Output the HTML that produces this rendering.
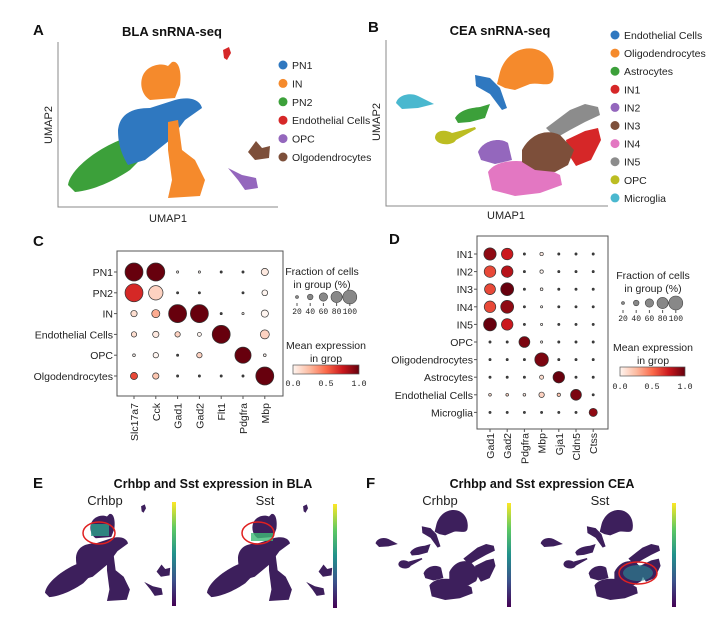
<!DOCTYPE html>
<html><head><meta charset="utf-8">
<style>
html,body{margin:0;padding:0;background:#fff;}
svg{display:block;font-family:"Liberation Sans",Arial,sans-serif;}
.t{font-size:11px;fill:#222;}
.b{font-weight:bold;}
</style></head>
<body>
<svg id="fig" width="720" height="625" viewBox="0 0 720 625">
<defs>
<linearGradient id="reds" x1="0" x2="1" y1="0" y2="0">
<stop offset="0" stop-color="#fff5f0"/><stop offset="0.25" stop-color="#fcbba1"/><stop offset="0.5" stop-color="#fb6a4a"/><stop offset="0.75" stop-color="#cb181d"/><stop offset="1" stop-color="#67000d"/>
</linearGradient>
<linearGradient id="viridis" x1="0" x2="0" y1="1" y2="0">
<stop offset="0" stop-color="#440154"/><stop offset="0.25" stop-color="#3b528b"/><stop offset="0.5" stop-color="#21918c"/><stop offset="0.75" stop-color="#5ec962"/><stop offset="1" stop-color="#fde725"/>
</linearGradient>
<filter id="dark" color-interpolation-filters="sRGB"><feColorMatrix type="matrix" values="0 0 0 0 0.24  0 0 0 0 0.12  0 0 0 0 0.36  0 0 0 1 0"/></filter>
</defs>

<!-- Panel A -->
<g>
<text x="33" y="35" font-size="15" class="b" fill="#111">A</text>
<text x="172" y="36" font-size="13" class="b" text-anchor="middle" fill="#111">BLA snRNA-seq</text>
<path d="M58,42 L58,207 L278,207" fill="none" stroke="#888" stroke-width="1"/>
<text x="168" y="222" class="t" text-anchor="middle">UMAP1</text>
<text x="0" y="0" class="t" text-anchor="middle" transform="translate(52,125) rotate(-90)">UMAP2</text>
<g id="umapA">
<path d="M68,185 C70,170 95,150 120,140 L150,128 C158,130 160,140 150,150 L130,170 C115,180 95,190 75,192 Z" fill="#3ca03a"/>
<path d="M118,130 C120,112 135,108 150,108 L175,100 C190,96 200,100 202,108 L185,120 L170,140 L145,160 L128,165 C122,155 118,145 118,130 Z" fill="#2f78c0"/>
<path d="M142,78 C145,66 160,62 168,66 L172,62 C178,60 182,70 180,85 L175,98 L150,100 C142,95 140,85 142,78Z" fill="#f58a2c"/>
<path d="M168,122 L178,120 L182,150 L195,160 L205,180 L200,196 L168,198 L172,180 L168,150 Z" fill="#f58a2c"/>
<path d="M223,50 L229,47 L231,53 L227,60 L224,58 Z" fill="#d62728"/>
<path d="M248,152 L256,141 L262,148 L270,146 L269,158 L255,160 Z" fill="#7d4f3a"/>
<path d="M228,168 L242,175 L256,178 L258,188 L245,190 L238,180 Z" fill="#9467bd"/>
</g>
<g id="legA"></g>
</g>

<!-- Panel B -->
<g>
<text x="368" y="32" font-size="15" class="b" fill="#111">B</text>
<text x="500" y="35" font-size="13" class="b" text-anchor="middle" fill="#111">CEA snRNA-seq</text>
<path d="M386,40 L386,206 L608,206" fill="none" stroke="#888" stroke-width="1"/>
<text x="506" y="219" class="t" text-anchor="middle">UMAP1</text>
<text x="0" y="0" class="t" text-anchor="middle" transform="translate(380,122) rotate(-90)">UMAP2</text>
<g id="umapB">
<path d="M500,72 C505,55 520,46 535,49 C548,52 556,65 553,80 C550,88 540,82 530,84 L515,90 L505,88 L497,84 Z" fill="#f58a2c"/>
<path d="M475,75 L490,78 L500,88 L507,108 L502,110 L490,94 L476,86 Z" fill="#2f78c0"/>
<path d="M396,103 C398,95 410,92 418,96 L434,104 L418,108 L402,109 Z" fill="#4ab8cf"/>
<path d="M455,118 C460,110 470,108 480,107 L490,104 L485,118 L470,122 L458,123 Z" fill="#3ca03a"/>
<path d="M435,138 C435,130 445,129 452,133 L475,127 L476,129 L456,140 C453,146 437,146 435,138 Z" fill="#bcbd22"/>
<path d="M478,152 C483,140 500,137 508,143 L512,160 L495,164 L481,160 Z" fill="#9467bd"/>
<path d="M488,172 C495,160 520,158 540,165 L560,175 L562,185 L540,193 L515,196 L492,190 Z" fill="#e377c2"/>
<path d="M546,128 L570,110 L585,104 L598,107 L600,115 L585,122 L570,130 L556,138 Z" fill="#8c8c8c"/>
<path d="M566,140 L585,131 L598,128 L601,140 L591,160 L576,166 L569,155 Z" fill="#d62728"/>
<path d="M522,150 C530,135 545,128 560,135 L574,150 L568,165 L555,172 L535,170 L522,162 Z" fill="#7d4f3a"/>
</g>
<g id="legB"></g>
</g>

<!-- Panel C -->
<g>
<text x="33" y="246" font-size="15" class="b" fill="#111">C</text>
<rect x="117" y="251" width="166" height="145" fill="none" stroke="#555"/>
<g id="dotC"></g>
<text x="322" y="275" font-size="10.5" fill="#222" text-anchor="middle">Fraction of cells</text>
<text x="322" y="288" font-size="10.5" fill="#222" text-anchor="middle">in group (%)</text>
<g id="sizeLegC"></g>
<text x="326" y="349" font-size="10.5" fill="#222" text-anchor="middle">Mean expression</text>
<text x="326" y="362" font-size="10.5" fill="#222" text-anchor="middle">in grop</text>
<rect x="293" y="365" width="66" height="9" fill="url(#reds)" stroke="#555" stroke-width="0.7"/>
<text x="293" y="386" font-size="8.5" text-anchor="middle" fill="#222" font-family="Liberation Mono">0.0</text>
<text x="326" y="386" font-size="8.5" text-anchor="middle" fill="#222" font-family="Liberation Mono">0.5</text>
<text x="359" y="386" font-size="8.5" text-anchor="middle" fill="#222" font-family="Liberation Mono">1.0</text>
</g>

<!-- Panel D -->
<g>
<text x="389" y="244" font-size="15" class="b" fill="#111">D</text>
<rect x="477" y="236" width="131" height="193" fill="none" stroke="#555"/>
<g id="dotD"></g>
<text x="653" y="279" font-size="10.5" fill="#222" text-anchor="middle">Fraction of cells</text>
<text x="653" y="292" font-size="10.5" fill="#222" text-anchor="middle">in group (%)</text>
<g id="sizeLegD"></g>
<text x="653" y="351" font-size="10.5" fill="#222" text-anchor="middle">Mean expression</text>
<text x="653" y="364" font-size="10.5" fill="#222" text-anchor="middle">in grop</text>
<rect x="620" y="367" width="65" height="9" fill="url(#reds)" stroke="#555" stroke-width="0.7"/>
<text x="620" y="389" font-size="8.5" text-anchor="middle" fill="#222" font-family="Liberation Mono">0.0</text>
<text x="652" y="389" font-size="8.5" text-anchor="middle" fill="#222" font-family="Liberation Mono">0.5</text>
<text x="685" y="389" font-size="8.5" text-anchor="middle" fill="#222" font-family="Liberation Mono">1.0</text>
</g>

<!-- Panel E -->
<g>
<text x="33" y="488" font-size="15" class="b" fill="#111">E</text>
<text x="213" y="488" font-size="12.5" class="b" text-anchor="middle" fill="#111">Crhbp and Sst expression in BLA</text>
<text x="105" y="505" font-size="13" text-anchor="middle" fill="#222">Crhbp</text>
<text x="265" y="505" font-size="13" text-anchor="middle" fill="#222">Sst</text>
<use href="#umapA" filter="url(#dark)" transform="translate(2.8,474.3) scale(0.62,0.64)"/>
<use href="#umapA" filter="url(#dark)" transform="translate(164.8,474.3) scale(0.62,0.64)"/>
<rect x="91" y="524" width="18" height="12" fill="#2a9d8a" opacity="0.8"/>
<rect x="251" y="533" width="22" height="8" fill="#3dbb75" opacity="0.8"/>
<ellipse cx="99" cy="533" rx="16" ry="11" fill="none" stroke="#e02020" stroke-width="1.5"/>
<ellipse cx="258" cy="533" rx="16" ry="11" fill="none" stroke="#e02020" stroke-width="1.5"/>
<rect x="172" y="502" width="4" height="104" fill="url(#viridis)"/>
<rect x="333" y="504" width="4" height="104" fill="url(#viridis)"/>
</g>

<!-- Panel F -->
<g>
<text x="366" y="488" font-size="15" class="b" fill="#111">F</text>
<text x="542" y="488" font-size="12.5" class="b" text-anchor="middle" fill="#111">Crhbp and Sst expression CEA</text>
<text x="440" y="505" font-size="13" text-anchor="middle" fill="#222">Crhbp</text>
<text x="600" y="505" font-size="13" text-anchor="middle" fill="#222">Sst</text>
<use href="#umapB" filter="url(#dark)" transform="translate(143.9,480.5) scale(0.585,0.61)"/>
<use href="#umapB" filter="url(#dark)" transform="translate(309,480.5) scale(0.585,0.61)"/>
<ellipse cx="638" cy="573" rx="15" ry="8" fill="#2a7f8e" opacity="0.7"/>
<ellipse cx="638" cy="573" rx="19" ry="11" fill="none" stroke="#e02020" stroke-width="1.5"/>
<rect x="507" y="503" width="4" height="104" fill="url(#viridis)"/>
<rect x="672" y="503" width="4" height="104" fill="url(#viridis)"/>
</g>
</svg>

<script>
// ---- Data ----
const legendA = ["PN1","IN","PN2","Endothelial Cells","OPC","Olgodendrocytes"];
const legendAColors = ["#2f78c0","#f58a2c","#3ca03a","#d62728","#9467bd","#7d4f3a"];
const legendB = ["Endothelial Cells","Oligodendrocytes","Astrocytes","IN1","IN2","IN3","IN4","IN5","OPC","Microglia"];
const legendBColors = ["#2f78c0","#f58a2c","#3ca03a","#d62728","#9467bd","#7d4f3a","#e377c2","#8c8c8c","#bcbd22","#4ab8cf"];

const rowsC = ["PN1","PN2","IN","Endothelial Cells","OPC","Olgodendrocytes"];
const colsC = ["Slc17a7","Cck","Gad1","Gad2","Flt1","Pdgfra","Mbp"];
const fracC = [
 [100,100,12,10,3,6,40],
 [100,80,6,6,0,6,32],
 [35,45,100,100,5,10,40],
 [30,35,30,22,100,0,50],
 [15,30,5,30,0,90,15],
 [40,35,5,5,5,5,100]];
const exprC = [
 [1,1,0,0,0,0,0.05],
 [0.7,0.15,0,0,0,0,0],
 [0.1,0.3,1,1,0,0,0],
 [0.1,0.05,0.15,0,1,0,0.15],
 [0,0,0,0.15,0,1,0],
 [0.6,0.2,0,0,0,0,1]];

const rowsD = ["IN1","IN2","IN3","IN4","IN5","OPC","Oligodendrocytes","Astrocytes","Endothelial Cells","Microglia"];
const colsD = ["Gad1","Gad2","Pdgfra","Mbp","Gja1","Cldn5","Ctss"];
const fracD = [
 [90,85,2,25,6,2,2],
 [85,85,2,25,6,2,2],
 [80,95,2,20,4,2,2],
 [85,95,2,15,4,2,2],
 [95,85,2,15,3,2,2],
 [2,3,80,15,3,2,2],
 [6,6,3,100,3,2,2],
 [6,8,8,30,85,6,2],
 [20,20,20,40,25,80,6],
 [2,2,2,6,3,2,60]];
const exprD = [
 [0.9,0.75,0,0.05,0,0,0],
 [0.6,0.8,0,0,0,0,0],
 [0.6,1,0,0,0,0,0],
 [0.6,0.9,0,0,0,0,0],
 [1,0.75,0,0,0,0,0],
 [0,0,0.95,0,0,0,0],
 [0,0,0,0.95,0,0,0],
 [0,0,0,0.1,1,0,0],
 [0.1,0.15,0.05,0.15,0.2,0.95,0],
 [0,0,0,0,0,0,0.9]];

const sizeTicks = [20,40,60,80,100];

// ---- Helpers ----
const NS = "http://www.w3.org/2000/svg";
function mk(tag, attrs, parent){const e=document.createElementNS(NS,tag);for(const k in attrs)e.setAttribute(k,attrs[k]);parent.appendChild(e);return e;}
const redStops=[[255,245,240],[252,187,161],[251,106,74],[203,24,29],[103,0,13]];
function reds(v){v=Math.max(0,Math.min(1,v));const p=v*4,i=Math.min(3,Math.floor(p)),t=p-i;const a=redStops[i],b=redStops[i+1];return "rgb("+a.map((c,k)=>Math.round(c+(b[k]-c)*t)).join(",")+")";}

function legend(gid, names, colors, x, y0, dy){
  const g=document.getElementById(gid);
  names.forEach((n,i)=>{
    const c=mk("circle",{cx:x,cy:y0+i*dy,r:4.5,fill:colors[i]},g);
    
    
    const t=mk("text",{x:x+9,y:y0+i*dy+4,"font-size":10.5,fill:"#222"},g);
    t.textContent=n;
    
    
  });
}
legend("legA",legendA,legendAColors,283,65,18.4);
legend("legB",legendB,legendBColors,615,35,18.1);

function dotplot(gid, rows, cols, frac, expr, x0, dx, y0, dy, rmax, labelX, boxBottom, colLabelY){
  const g=document.getElementById(gid);
  const xs=j=>x0+j*dx, ys=i=>y0+i*dy, rs=f=>Math.max(1.1,rmax*f/100);
  rows.forEach((r,i)=>{
    const t=mk("text",{x:labelX-4,y:ys(i)+4,"font-size":10.5,"text-anchor":"end",fill:"#222"},g);
    t.textContent=r;
    
    
    const tk=mk("line",{x1:labelX-3,x2:labelX,y1:ys(i),y2:ys(i),stroke:"#555"},g);
    
    
  });
  cols.forEach((c,j)=>{
    const tk=mk("line",{x1:xs(j),x2:xs(j),y1:boxBottom,y2:boxBottom+3,stroke:"#555"},g);
    
    
    const t=mk("text",{x:0,y:0,"font-size":10.5,"text-anchor":"end",fill:"#222",transform:"translate("+(xs(j)+4)+","+colLabelY+") rotate(-90)"},g);
    t.textContent=c;
    
    
  });
  rows.forEach((r,i)=>cols.forEach((c,j)=>{
    const f=frac[i][j]; if(f<=0) return;
    const d=mk("circle",{cx:xs(j),cy:ys(i),r:rs(f),fill:f<10?"#444":reds(expr[i][j]),stroke:"#333","stroke-width":0.7},g);
    
    
  }));
}
dotplot("dotC",rowsC,colsC,fracC,exprC,134,21.8,272,20.8,9,117,396,403);
dotplot("dotD",rowsD,colsD,fracD,exprD,490,17.2,254,17.6,6.8,477,429,433);

function sizeLegend(gid, x0, dx, y, rmax, ly){
  const g=document.getElementById(gid);
  sizeTicks.forEach((s,i)=>{
    const c=mk("circle",{cx:x0+i*dx,cy:y,r:Math.max(1.5,rmax*s/100),fill:"#888",stroke:"#444","stroke-width":0.6},g);
    
    
    const tk=mk("line",{x1:x0+i*dx,x2:x0+i*dx,y1:ly-11,y2:ly-8,stroke:"#555"},g);
    
    
    const t=mk("text",{x:x0+i*dx,y:ly,"font-size":8,"text-anchor":"middle",fill:"#222","font-family":"Liberation Mono"},g);
    t.textContent=s;
    
    
  });
}
sizeLegend("sizeLegC",297,13.2,297,7,314);
sizeLegend("sizeLegD",623,13.2,303,7,321);
</script>
</body></html>
